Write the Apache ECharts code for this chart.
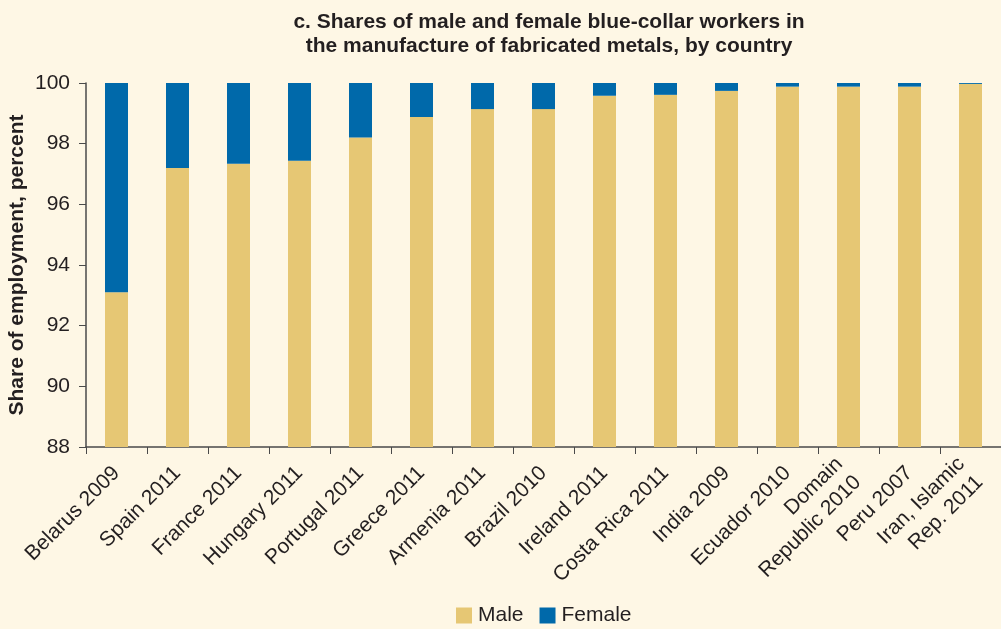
<!DOCTYPE html>
<html><head><meta charset="utf-8">
<script src="https://cdn.jsdelivr.net/npm/echarts@6/dist/echarts.min.js"></script>
<style>html,body{margin:0;padding:0;background:#FEF7E5;}#c{width:1001px;height:629px;}</style>
</head><body><div id="c"></div>
<script>
const categories = ["Belarus 2009","Spain 2011","France 2011","Hungary 2011","Portugal 2011","Greece 2011","Armenia 2011","Brazil 2010","Ireland 2011","Costa Rica 2011","India 2009","Ecuador 2010","Domain\nRepublic 2010","Peru 2007","Iran, Islamic\nRep. 2011"];
const male = [93.1, 97.2, 97.34, 97.44, 98.2, 98.88, 99.14, 99.14, 99.58, 99.61, 99.74, 99.88, 99.88, 99.88, 99.97];
const female = [6.9, 2.8, 2.66, 2.56, 1.8, 1.12, 0.86, 0.86, 0.42, 0.39, 0.26, 0.12, 0.12, 0.12, 0.03];
const yTicks = [88, 90, 92, 94, 96, 98, 100];

const chart = echarts.init(document.getElementById('c'), null, {renderer:'canvas'});
const txt = '#231F20';
const ff = 'Liberation Sans, Arial, Helvetica';
chart.setOption({
  backgroundColor:'#FEF7E5',
  animation:false,
  title:{
    text:'c. Shares of male and female blue-collar workers in\nthe manufacture of fabricated metals, by country',
    left:544, top:5, textAlign:'center',
    textStyle:{fontFamily:ff, fontWeight:'bold', fontSize:21, lineHeight:24, color:txt}
  },
  legend:{
    left:451, top:600,
    itemWidth:16, itemHeight:16, itemGap:16,
    icon:'rect',
    textStyle:{fontFamily:ff, fontSize:21, color:txt, padding:[0,0,0,1]},
    data:['Male','Female']
  },
  grid:{left:86, right:0, top:83, bottom:182, containLabel:false, outerBoundsMode:'none'},
  xAxis:{
    type:'category', data:categories,
    axisLine:{lineStyle:{color:'#4a4a4a', width:1.5}},
    axisTick:{show:true, alignWithLabel:false, length:7, lineStyle:{color:'#4a4a4a'}},
    axisLabel:{rotate:45, interval:0, fontFamily:ff, fontSize:21, color:txt, margin:23, lineHeight:26, align:'right'}
  },
  yAxis:{
    type:'value', min:88, max:100, interval:2,
    name:'Share of employment, percent', nameLocation:'middle', nameGap:58, nameMoveOverlap:false,
    nameTextStyle:{fontFamily:ff, fontWeight:'bold', fontSize:21, color:txt},
    axisLine:{show:true, lineStyle:{color:'#4a4a4a', width:1.5}},
    axisTick:{show:true, length:7, lineStyle:{color:'#4a4a4a'}},
    splitLine:{show:false},
    axisLabel:{fontFamily:ff, fontSize:21, color:txt, margin:16,
      formatter:v=> yTicks.includes(v)? String(v):''}
  },
  series:[
    {name:'Male', type:'bar', stack:'s', data:male, barWidth:23, itemStyle:{color:'#E6C774'}},
    {name:'Female', type:'bar', stack:'s', data:female, barWidth:23, itemStyle:{color:'#0069AA'}}
  ]
});
</script></body></html>
